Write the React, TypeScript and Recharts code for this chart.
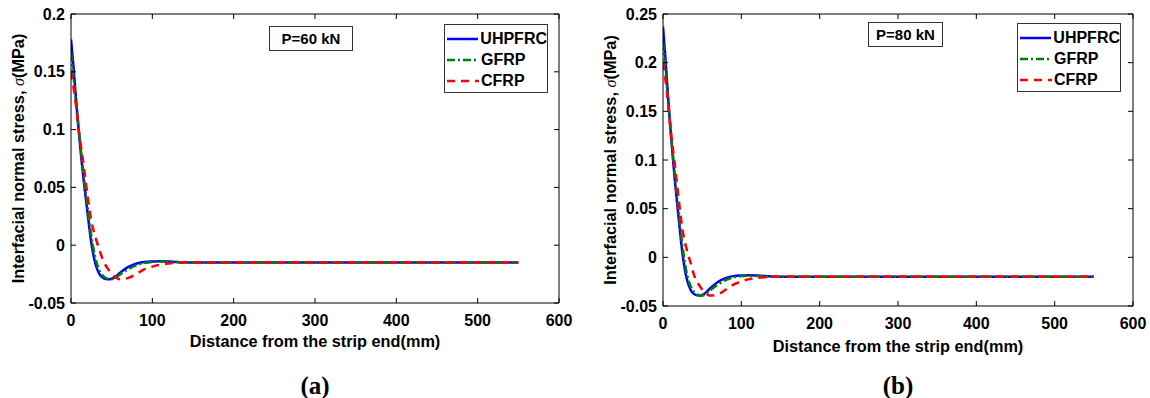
import { LineChart, Line, XAxis, YAxis } from "recharts";

// distance from the strip end (mm)
const distance = [
  0, 3, 6, 10, 15, 20, 25, 30, 35, 40, 45, 50, 55, 60, 70, 80, 90, 100, 110,
  120, 130, 140, 150, 200, 250, 300, 350, 400, 450, 500, 550,
];

// P = 60 kN
const uhpfrc60 = [
  0.178, 0.155, 0.128, 0.095, 0.06, 0.03, 0.002, -0.016, -0.025, -0.0285,
  -0.0295, -0.029, -0.027, -0.024, -0.019, -0.016, -0.0145, -0.014, -0.0138,
  -0.014, -0.0145, -0.0148, -0.015, -0.015, -0.015, -0.015, -0.015, -0.015,
  -0.015, -0.015, -0.015,
];
const gfrp60 = [
  0.166, 0.146, 0.124, 0.097, 0.064, 0.035, 0.008, -0.011, -0.022, -0.027,
  -0.029, -0.0295, -0.028, -0.0255, -0.021, -0.0175, -0.0155, -0.0145, -0.0142,
  -0.0143, -0.0146, -0.0149, -0.015, -0.015, -0.015, -0.015, -0.015, -0.015,
  -0.015, -0.015, -0.015,
];
const cfrp60 = [
  0.15, 0.137, 0.122, 0.097, 0.072, 0.045, 0.021, 0.007, -0.004, -0.014, -0.02,
  -0.025, -0.028, -0.0295, -0.0285, -0.025, -0.021, -0.0185, -0.0168, -0.0158,
  -0.0153, -0.015, -0.015, -0.015, -0.015, -0.015, -0.015, -0.015, -0.015,
  -0.015, -0.015,
];

// P = 80 kN
const uhpfrc80 = [
  0.237, 0.206, 0.17, 0.127, 0.08, 0.04, 0.003, -0.021, -0.033, -0.038,
  -0.0393, -0.0387, -0.036, -0.032, -0.0253, -0.0213, -0.0193, -0.0187,
  -0.0184, -0.0187, -0.0193, -0.0197, -0.02, -0.02, -0.02, -0.02, -0.02, -0.02,
  -0.02, -0.02, -0.02,
];
const gfrp80 = [
  0.221, 0.195, 0.165, 0.129, 0.085, 0.047, 0.011, -0.015, -0.029, -0.036,
  -0.0387, -0.0393, -0.0373, -0.034, -0.028, -0.0233, -0.0207, -0.0193,
  -0.0189, -0.0191, -0.0195, -0.0199, -0.02, -0.02, -0.02, -0.02, -0.02, -0.02,
  -0.02, -0.02, -0.02,
];
const cfrp80 = [
  0.2, 0.183, 0.163, 0.129, 0.096, 0.06, 0.028, 0.009, -0.005, -0.019, -0.027,
  -0.033, -0.037, -0.0393, -0.038, -0.0333, -0.028, -0.0247, -0.0224, -0.0211,
  -0.0204, -0.02, -0.02, -0.02, -0.02, -0.02, -0.02, -0.02, -0.02, -0.02, -0.02,
];

const xTicks = [0, 100, 200, 300, 400, 500, 600];
const yTicks60 = [-0.05, 0, 0.05, 0.1, 0.15, 0.2];
const yTicks80 = [-0.05, 0, 0.05, 0.1, 0.15, 0.2, 0.25];

const FONT = "'Liberation Sans', Arial, sans-serif";
const tickStyle = { fill: "#000", fontSize: 16, fontWeight: 700, fontFamily: FONT };
const titleStyle = { ...tickStyle, fontSize: 16.3 };

const series = [
  { key: "uhpfrc", name: "UHPFRC", color: "#0000ff", dash: undefined },
  { key: "gfrp", name: "GFRP", color: "#008000", dash: "8 3 2 3" },
  { key: "cfrp", name: "CFRP", color: "#ff0000", dash: "8 6" },
];

function LegendBox({ left, top }: { left: number; top: number }) {
  return (
    <div
      style={{
        position: "absolute",
        left,
        top,
        border: "1px solid #333",
        background: "#fff",
        width: 102,
        height: 64,
        paddingTop: 3,
        fontFamily: FONT,
        fontWeight: 700,
        fontSize: 16,
      }}
    >
      {series.map((s) => (
        <div key={s.key} style={{ display: "flex", alignItems: "center", height: 21 }}>
          <svg width={32} height={6} style={{ marginLeft: 2, marginRight: 2 }}>
            <line x1={0} y1={3} x2={32} y2={3} stroke={s.color} strokeWidth={2.5} strokeDasharray={s.dash} />
          </svg>
          <span>{s.name}</span>
        </div>
      ))}
    </div>
  );
}

function Panel({
  uhpfrc,
  gfrp,
  cfrp,
  yTicks,
  yMax,
  yAxisWidth,
  rightMargin,
  xAxisHeight,
  load,
  loadBox,
  legendPos,
  yLabelX,
  xLabelY,
  letter,
  letterY,
}: {
  uhpfrc: number[];
  gfrp: number[];
  cfrp: number[];
  yTicks: number[];
  yMax: number;
  yAxisWidth: number;
  rightMargin: number;
  xAxisHeight: number;
  load: string;
  loadBox: { left: number; top: number; width: number; height: number };
  legendPos: { left: number; top: number };
  yLabelX: number;
  xLabelY: number;
  letter: string;
  letterY: number;
}) {
  const data = distance.map((x, i) => ({
    x,
    uhpfrc: uhpfrc[i],
    gfrp: gfrp[i],
    cfrp: cfrp[i],
  }));
  const plotLeft = yAxisWidth;
  const plotRight = 575 - rightMargin;
  const plotTop = 14;
  const plotBottom = 398 - xAxisHeight;
  const cx = (plotLeft + plotRight) / 2;
  const cy = (plotTop + plotBottom) / 2;

  return (
    <div style={{ position: "relative", width: 575, height: 398 }}>
      <LineChart
        width={575}
        height={398}
        data={data}
        margin={{ top: plotTop - 1, right: rightMargin - 1, bottom: 0, left: 0 }}
      >
        <XAxis
          xAxisId="main"
          dataKey="x"
          type="number"
          domain={[0, 600]}
          ticks={xTicks}
          height={xAxisHeight}
          allowDataOverflow
          stroke="#000"
          tickSize={-5}
          tickMargin={17}
          tick={tickStyle}
          label={{
            content: () => (
              <text
                x={cx}
                y={xLabelY}
                textAnchor="middle"
                dominantBaseline="central"
                style={titleStyle}
              >
                Distance from the strip end(mm)
              </text>
            ),
          }}
        />
        <XAxis
          xAxisId="top"
          orientation="top"
          type="number"
          dataKey="x"
          domain={[0, 600]}
          ticks={xTicks}
          height={1}
          allowDataOverflow
          stroke="#000"
          tickSize={-5}
          tickFormatter={() => ""}
        />
        <YAxis
          yAxisId="main"
          type="number"
          domain={[-0.05, yMax]}
          ticks={yTicks}
          width={yAxisWidth}
          allowDataOverflow
          stroke="#000"
          tickSize={-5}
          tickMargin={11}
          tick={tickStyle}
          label={{
            content: () => (
              <text
                transform={`translate(${yLabelX},${cy}) rotate(-90)`}
                textAnchor="middle"
                dominantBaseline="central"
                style={titleStyle}
              >
                Interfacial normal stress,{" "}
                <tspan fontStyle="italic" fontWeight={400} fontFamily="'Liberation Serif', serif">
                  σ
                </tspan>
                (MPa)
              </text>
            ),
          }}
        />
        <YAxis
          yAxisId="right"
          orientation="right"
          type="number"
          domain={[-0.05, yMax]}
          ticks={yTicks}
          width={1}
          allowDataOverflow
          stroke="#000"
          tickSize={-5}
          tickFormatter={() => ""}
        />
        {/* invisible copy so the mirrored top/right axes get drawn */}
        <Line
          xAxisId="top"
          yAxisId="right"
          type="monotone"
          dataKey="uhpfrc"
          stroke="none"
          strokeOpacity={0}
          dot={false}
          activeDot={false}
          legendType="none"
          isAnimationActive={false}
        />
        {series.map((s) => (
          <Line
            key={s.key}
            xAxisId="main"
            yAxisId="main"
            type="monotone"
            dataKey={s.key}
            name={s.name}
            stroke={s.color}
            strokeWidth={2.5}
            strokeDasharray={s.dash}
            dot={false}
            activeDot={false}
            isAnimationActive={false}
          />
        ))}
      </LineChart>
      <LegendBox left={legendPos.left} top={legendPos.top} />
      <div
        style={{
          position: "absolute",
          left: loadBox.left,
          top: loadBox.top,
          width: loadBox.width,
          height: loadBox.height,
          border: "1px solid #333",
          boxSizing: "border-box",
          background: "#fff",
          display: "flex",
          alignItems: "center",
          justifyContent: "center",
          fontFamily: FONT,
          fontWeight: 700,
          fontSize: 15,
        }}
      >
        {load}
      </div>
      <div
        style={{
          position: "absolute",
          left: cx - 40,
          width: 80,
          top: letterY - 15,
          height: 30,
          lineHeight: "30px",
          textAlign: "center",
          fontFamily: "'Liberation Serif', 'Times New Roman', serif",
          fontWeight: 700,
          fontSize: 25,
        }}
      >
        {letter}
      </div>
    </div>
  );
}

export default function App() {
  return (
    <div
      style={{
        position: "absolute",
        left: 0,
        top: 0,
        width: 1150,
        height: 398,
        background: "#fff",
        display: "flex",
      }}
    >
      <Panel
        uhpfrc={uhpfrc60}
        gfrp={gfrp60}
        cfrp={cfrp60}
        yTicks={yTicks60}
        yMax={0.2}
        yAxisWidth={71}
        rightMargin={16}
        xAxisHeight={95}
        load="P=60 kN"
        loadBox={{ left: 269, top: 26, width: 84, height: 25 }}
        legendPos={{ left: 444, top: 24 }}
        yLabelX={18}
        xLabelY={341}
        letter="(a)"
        letterY={386}
      />
      <Panel
        uhpfrc={uhpfrc80}
        gfrp={gfrp80}
        cfrp={cfrp80}
        yTicks={yTicks80}
        yMax={0.25}
        yAxisWidth={88}
        rightMargin={17}
        xAxisHeight={92}
        load="P=80 kN"
        loadBox={{ left: 293, top: 22, width: 75, height: 25 }}
        legendPos={{ left: 442, top: 23 }}
        yLabelX={35}
        xLabelY={346}
        letter="(b)"
        letterY={386}
      />
    </div>
  );
}
